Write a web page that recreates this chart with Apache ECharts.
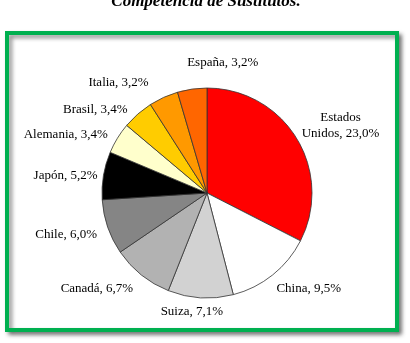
<!DOCTYPE html>
<html><head><meta charset="utf-8">
<script src="https://cdn.jsdelivr.net/npm/echarts@6/dist/echarts.min.js"></script>
<style>html,body{margin:0;padding:0;background:#fff}#c{width:410px;height:343px}</style>
</head><body><div id="c"></div>
<script>
var titleText = 'Competencia de Sustitutos.';
var countries = ['Estados\nUnidos', 'China', 'Suiza', 'Canadá', 'Chile', 'Japón', 'Alemania', 'Brasil', 'Italia', 'España'];
var shares = [23.0, 9.5, 7.1, 6.7, 6.0, 5.2, 3.4, 3.4, 3.2, 3.2];
var sliceColors = ['#ff0000', '#ffffff', '#d2d2d2', '#b2b2b2', '#858585', '#000000', '#ffffcc', '#ffcc00', '#ff9900', '#ff6600'];
// label nudges (dx, dy) relative to default outside placement
var labelNudge = [[-5,-10],[-5,9],[28,8],[-4,9],[-5,5],[0,1],[-3,-3],[4,-10],[5,-19],[72,-21]];

var chart = echarts.init(document.getElementById('c'), null, {renderer: 'canvas'});
var data = countries.map(function (n, i) {
  return {name: n, value: shares[i], itemStyle: {color: sliceColors[i]}};
});
chart.setOption({
  animation: false,
  graphic: [
    {type: 'rect', shape: {x: 7, y: 33, width: 390, height: 297}, z: 0,
     style: {fill: '#fff', stroke: '#00b050', lineWidth: 4, shadowBlur: 4, shadowOffsetX: 3, shadowOffsetY: 3, shadowColor: 'rgba(0,0,0,0.45)'}},
    {type: 'text', x: 206, y: -7, z: 5,
     style: {text: titleText, font: 'italic bold 17px "Liberation Serif"', fill: '#000', align: 'center', verticalAlign: 'top'}}
  ],
  series: [{
    type: 'pie',
    center: [207, 193],
    radius: [0, 105],
    startAngle: 90,
    clockwise: true,
    data: data,
    itemStyle: {borderColor: '#333', borderWidth: 0.8},
    label: {
      show: true, position: 'outside',
      formatter: function (p) { return p.name + ', ' + p.value.toFixed(1).replace('.', ',') + '%'; },
      fontFamily: 'Liberation Serif', fontSize: 13, color: '#000', lineHeight: 16
    },
    labelLine: {show: false, length: 6, length2: 0},
    labelLayout: function (p) {
      var n = labelNudge[p.dataIndex];
      if (p.dataIndex === 0) {
        return {x: p.labelRect.x + n[0] + p.labelRect.width / 2, dy: n[1], align: 'center'};
      }
      return {dx: n[0], dy: n[1]};
    }
  }]
});
</script></body></html>
